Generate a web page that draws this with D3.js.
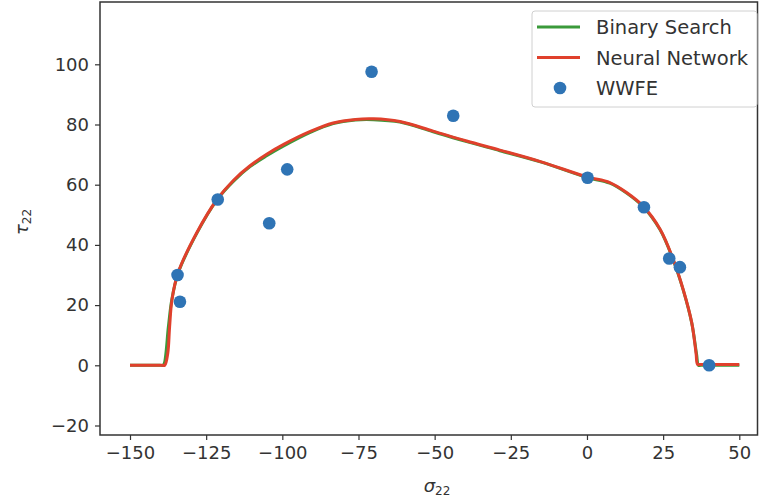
<!DOCTYPE html>
<html>
<head>
<meta charset="utf-8">
<script src="https://cdn.jsdelivr.net/npm/d3@7"></script>
<style>
  body { margin: 0; background: #fff; }
  svg { display: block; font-family: "DejaVu Sans", sans-serif; }
</style>
</head>
<body>
<svg id="chart" width="759" height="499"></svg>
<script>
// data
var sigmaBinary = [-150, -140.2, -139.3, -138.8, -137.4, -136.3, -134.2, -128, -121.5, -116, -110.6, -105, -99.7, -91, -83.3, -76, -70.1, -61.4, -50.5, -39.5, -28.6, -15, 0, 7.5, 13, 18.5, 24.0, 28.3, 31.6, 34.4, 36.0, 36.6, 37.4, 50];
var tauBinary   = [0, 0, 0, 0.5, 12.8, 21.7, 30.6, 44, 54.9, 61.2, 66.0, 69.7, 72.8, 77.3, 80.3, 81.5, 81.6, 80.8, 77.6, 74.3, 71.3, 67.5, 62.4, 60.5, 57.2, 52.6, 45.0, 35.0, 25.0, 14.0, 3.5, 0, 0, 0];
var sigmaNN = [-150, -139.5, -138.6, -137.6, -137.0, -136.2, -134.2, -128, -121.5, -116, -110.6, -105, -99.7, -91, -83.3, -76, -70.1, -61.4, -50.5, -39.5, -28.6, -15, 0, 7.5, 13, 18.5, 24.0, 28.3, 31.6, 34.4, 35.8, 36.3, 37.2, 50];
var tauNN   = [0, 0, 0, 4, 12.8, 21.9, 30.8, 44.2, 55.0, 61.5, 66.3, 70.2, 73.3, 77.6, 80.5, 81.7, 81.9, 81.0, 77.8, 74.5, 71.5, 67.6, 62.6, 60.7, 57.4, 52.8, 45.2, 35.2, 25.1, 14.1, 4, 0.3, 0.3, 0.3];
var sigmaWWFE = [-134.4, -133.6, -121.2, -104.3, -98.4, -70.7, -43.9, 0.2, 18.7, 27.0, 30.5, 40.1];
var tauWWFE   = [30.0, 21.1, 55.1, 47.2, 65.1, 97.5, 82.9, 62.3, 52.5, 35.5, 32.6, 0];
var xTicks = [-150, -125, -100, -75, -50, -25, 0, 25, 50];
var yTicks = [-20, 0, 20, 40, 60, 80, 100];
var legendNames = ['Binary Search', 'Neural Network', 'WWFE'];

(function() {
    var colGreen = '#3a9a3a', colRed = '#e0402c', colBlue = '#2f74b5';

    var svg = d3.select('#chart');
    var mLeft = 100, mRight = 757.5, mTop = 2, mBottom = 435;

    var x = d3.scaleLinear().domain([-150, 50]).range([130, 739.3]);
    var y = d3.scaleLinear().domain([0, 20]).range([365.3, 305.1]);

    var plot = svg.append('g');

    var lineOf = function(xs, ys) {
        return d3.line()
            .curve(d3.curveCatmullRom.alpha(0.5))
            .x(function(d, i) { return x(xs[i]); })
            .y(function(d, i) { return y(ys[i]); })(xs);
    };

    plot.append('path')
        .attr('d', lineOf(sigmaBinary, tauBinary))
        .attr('fill', 'none')
        .attr('stroke', colGreen)
        .attr('stroke-width', 3);

    plot.append('path')
        .attr('d', lineOf(sigmaNN, tauNN))
        .attr('fill', 'none')
        .attr('stroke', colRed)
        .attr('stroke-width', 3);

    plot.selectAll('circle.pt')
        .data(sigmaWWFE)
        .enter().append('circle')
        .attr('class', 'pt')
        .attr('cx', function(d) { return x(d); })
        .attr('cy', function(d, i) { return y(tauWWFE[i]); })
        .attr('r', 6.3)
        .attr('fill', colBlue);

    // axes
    var fmt = function(d) { return String(d).replace('-', '\u2212'); };
    var xAxis = d3.axisBottom(x).tickValues(xTicks).tickSize(5).tickPadding(6).tickFormat(fmt);
    var yAxis = d3.axisLeft(y).tickValues(yTicks).tickSize(5).tickPadding(6).tickFormat(fmt);

    var gx = svg.append('g').attr('transform', 'translate(0,' + mBottom + ')').call(xAxis);
    var gy = svg.append('g').attr('transform', 'translate(' + mLeft + ',0)').call(yAxis);
    [gx, gy].forEach(function(g) {
        g.select('.domain').remove();
        g.selectAll('line').attr('stroke', '#333').attr('stroke-width', 1.2);
        g.selectAll('text').attr('fill', '#333').style('font-size', '18px')
            .style('font-family', '"DejaVu Sans", sans-serif');
    });

    // frame
    svg.append('rect')
        .attr('x', mLeft).attr('y', mTop)
        .attr('width', mRight - mLeft).attr('height', mBottom - mTop)
        .attr('fill', 'none').attr('stroke', '#333').attr('stroke-width', 1.5);

    // axis labels
    var xl = svg.append('text').attr('x', 437).attr('y', 492).attr('text-anchor', 'middle')
        .attr('fill', '#333').style('font-size', '18px');
    xl.append('tspan').text('\u03c3').style('font-style', 'italic');
    xl.append('tspan').text('22').attr('dy', 3).style('font-size', '12px');

    var yl = svg.append('text').attr('transform', 'translate(28,222) rotate(-90)')
        .attr('text-anchor', 'middle').attr('fill', '#333').style('font-size', '18px');
    yl.append('tspan').text('\u03c4').style('font-style', 'italic');
    yl.append('tspan').text('22').attr('dy', 3).style('font-size', '12px');

    // legend
    var lg = svg.append('g');
    lg.append('rect')
        .attr('x', 532).attr('y', 11).attr('width', 225).attr('height', 96).attr('rx', 3)
        .attr('fill', '#fff').attr('fill-opacity', 0.8).attr('stroke', '#d0d0d0');
    legendNames.forEach(function(name, i) {
        var cy = 27 + i * 30.5;
        if (i < 2) {
            lg.append('line').attr('x1', 537).attr('x2', 580).attr('y1', cy).attr('y2', cy)
                .attr('stroke', i === 0 ? colGreen : colRed).attr('stroke-width', 3);
        } else {
            lg.append('circle').attr('cx', 560).attr('cy', cy).attr('r', 6.3).attr('fill', colBlue);
        }
        lg.append('text').attr('x', 596).attr('y', cy + 7).attr('fill', '#333')
            .style('font-size', '19.5px').text(name);
    });
})();
</script>
</body>
</html>
